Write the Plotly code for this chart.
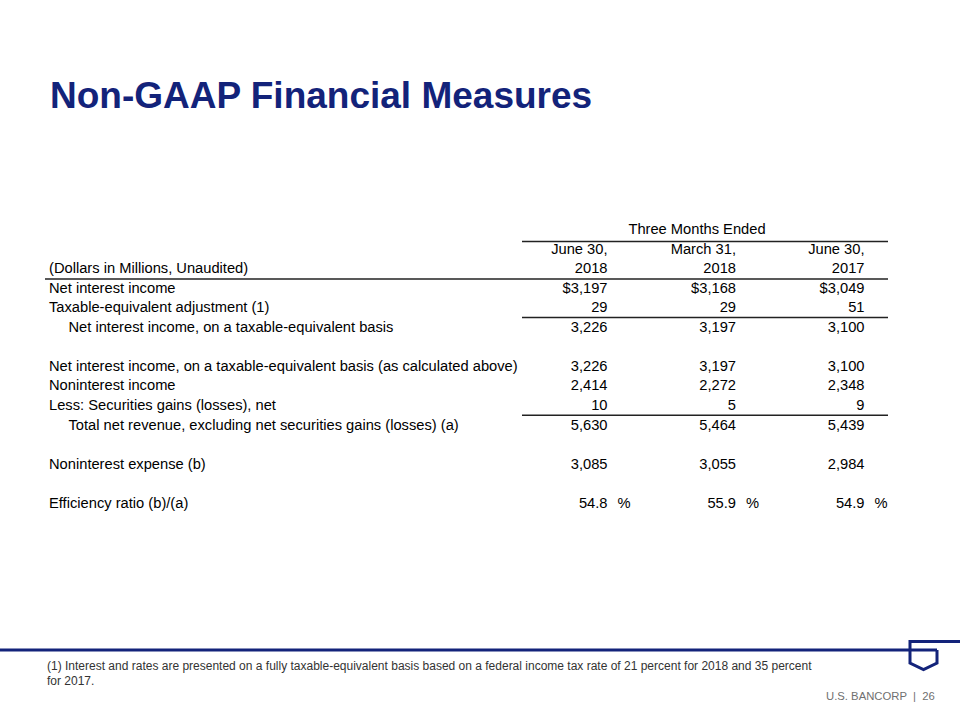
import plotly.graph_objects as go

# ---------------- data ----------------
title = "Non-GAAP Financial Measures"
group_header = "Three Months Ended"
col_headers_top = ["June 30,", "March 31,", "June 30,"]
col_headers_year = ["2018", "2018", "2017"]
label_header = "(Dollars in Millions, Unaudited)"
row_labels = [
    "Net interest income",
    "Taxable-equivalent adjustment (1)",
    "Net interest income, on a taxable-equivalent basis",
    "",
    "Net interest income, on a taxable-equivalent basis (as calculated above)",
    "Noninterest income",
    "Less: Securities gains (losses), net",
    "Total net revenue, excluding net securities gains (losses) (a)",
    "",
    "Noninterest expense (b)",
    "",
    "Efficiency ratio (b)/(a)",
]
row_indent = [0, 0, 1, 0, 0, 0, 0, 1, 0, 0, 0, 0]
jun_2018 = [3197, 29, 3226, None, 3226, 2414, 10, 5630, None, 3085, None, 54.8]
mar_2018 = [3168, 29, 3197, None, 3197, 2272, 5, 5464, None, 3055, None, 55.9]
jun_2017 = [3049, 51, 3100, None, 3100, 2348, 9, 5439, None, 2984, None, 54.9]
dollar_rows = [0]
percent_rows = [11]
underline_after = [1, 6]   # data rows followed by a partial rule
footnote_1 = ("(1) Interest and rates are presented on a fully taxable-equivalent basis based on a "
              "federal income tax rate of 21 percent for 2018 and 35 percent")
footnote_2 = "for 2017."
footer = "U.S. BANCORP  |  26"

# ---------------- layout constants ----------------
W, H = 960, 720
FONT = "Arial, Liberation Sans, sans-serif"
NAVY = "#13237a"
ROW0_Y = 250.0
ROW_H = 19.54
LABEL_X = 49.0
INDENT_X = 68.5
COL_X = [607.5, 736.0, 864.5]
PCT_DX = 10.0
RULE_X0, RULE_X1 = 522.0, 888.0
FULL_X0 = 45.0
FS = 14.7


def ry(i):
    return ROW0_Y + ROW_H * i


def fmt(v, r):
    if v is None:
        return ""
    if r in percent_rows:
        return f"{v:.1f}"
    s = f"{v:,.0f}"
    return "$" + s if r in dollar_rows else s


fig = go.Figure()

# row labels (data rows start at table row 2)
lab_x = [INDENT_X if ind else LABEL_X for ind in row_indent]
lab_y = [ry(i + 2) for i in range(len(row_labels))]
fig.add_trace(go.Scatter(
    x=[LABEL_X] + lab_x, y=[ry(1)] + lab_y, text=[label_header] + row_labels,
    mode="text", textposition="middle right",
    textfont=dict(size=FS, color="#000000", family=FONT), hoverinfo="skip", showlegend=False))

# value columns
for c, vals in enumerate([jun_2018, mar_2018, jun_2017]):
    xs = [COL_X[c]] * (len(vals) + 2)
    ys = [ry(0), ry(1)] + [ry(i + 2) for i in range(len(vals))]
    txt = [col_headers_top[c], col_headers_year[c]] + [fmt(v, i) for i, v in enumerate(vals)]
    fig.add_trace(go.Scatter(
        x=xs, y=ys, text=txt, mode="text", textposition="middle left",
        textfont=dict(size=FS, color="#000000", family=FONT), hoverinfo="skip", showlegend=False))
    # percent signs
    fig.add_trace(go.Scatter(
        x=[COL_X[c] + PCT_DX for _ in percent_rows], y=[ry(r + 2) for r in percent_rows],
        text=["%" for _ in percent_rows], mode="text", textposition="middle right",
        textfont=dict(size=FS, color="#000000", family=FONT), hoverinfo="skip", showlegend=False))

# group header
fig.add_trace(go.Scatter(
    x=[(RULE_X0 + RULE_X1) / 2 - 8], y=[ry(-1)], text=[group_header], mode="text",
    textposition="middle center", textfont=dict(size=FS, color="#000000", family=FONT),
    hoverinfo="skip", showlegend=False))

shapes = []
rule = dict(color="#222222", width=1.5)
shapes.append(dict(type="line", xref="x", yref="y", x0=RULE_X0, x1=RULE_X1,
                   y0=ry(-1) + 11, y1=ry(-1) + 11, line=rule))
shapes.append(dict(type="line", xref="x", yref="y", x0=FULL_X0, x1=RULE_X1,
                   y0=ry(1) + 9.5, y1=ry(1) + 9.5, line=rule))
for r in underline_after:
    yy = ry(r + 2) + 9
    shapes.append(dict(type="line", xref="x", yref="y", x0=RULE_X0, x1=RULE_X1,
                       y0=yy, y1=yy, line=rule))

# bottom navy rule and logo
shapes.append(dict(type="line", xref="x", yref="y", x0=0, x1=937, y0=650, y1=650,
                   line=dict(color=NAVY, width=3)))
shapes.append(dict(type="path", xref="x", yref="y",
                   path="M 960 641.5 L 910 641.5 L 910 663 L 923.5 669.5 L 937 663 L 937 650",
                   line=dict(color=NAVY, width=3)))

annotations = [
    dict(x=48, y=95, xref="x", yref="y", text=f"<b>{title}</b>", showarrow=False,
         xanchor="left", yanchor="middle", font=dict(size=37, color=NAVY, family=FONT)),
    dict(x=45, y=666, xref="x", yref="y", text=footnote_1, showarrow=False,
         xanchor="left", yanchor="middle", font=dict(size=12, color="#333333", family=FONT)),
    dict(x=45, y=681, xref="x", yref="y", text=footnote_2, showarrow=False,
         xanchor="left", yanchor="middle", font=dict(size=12, color="#333333", family=FONT)),
    dict(x=937, y=696, xref="x", yref="y", text=footer, showarrow=False,
         xanchor="right", yanchor="middle", font=dict(size=11.3, color="#707070", family=FONT)),
]

fig.update_layout(
    width=W, height=H, margin=dict(l=0, r=0, t=0, b=0),
    paper_bgcolor="white", plot_bgcolor="white",
    xaxis=dict(range=[0, W], visible=False, fixedrange=True),
    yaxis=dict(range=[H, 0], visible=False, fixedrange=True),
    shapes=shapes, annotations=annotations, font=dict(family=FONT),
)

fig.write_html("out.html", config={"displayModeBar": False},
               post_script="document.body.style.margin='0';document.body.style.overflow='hidden';")
